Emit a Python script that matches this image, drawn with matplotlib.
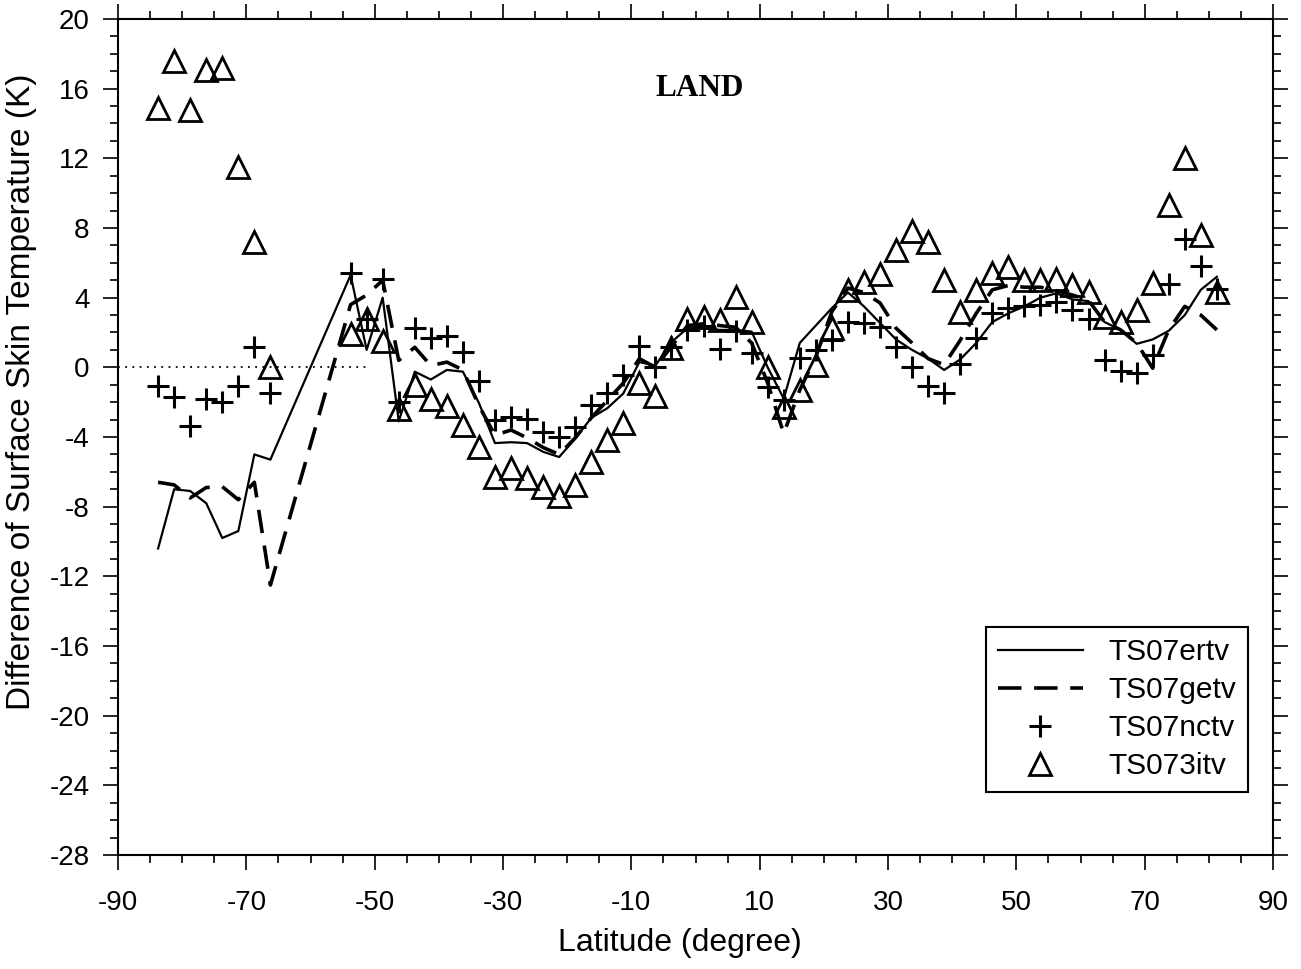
import matplotlib
matplotlib.use("Agg")
import matplotlib.pyplot as plt
from matplotlib.ticker import MultipleLocator

lat = [-83.75, -81.25, -78.75, -76.25, -73.75, -71.25, -68.75, -66.25,
       -53.75, -51.25, -48.75, -46.25, -43.75, -41.25, -38.75, -36.25, -33.75,
       -31.25, -28.75, -26.25, -23.75, -21.25, -18.75, -16.25, -13.75, -11.25,
       -8.75, -6.25, -3.75, -1.25, 1.25, 3.75, 6.25, 8.75, 11.25, 13.75,
       16.25, 18.75, 21.25, 23.75, 26.25, 28.75, 31.25, 33.75, 36.25, 38.75,
       41.25, 43.75, 46.25, 48.75, 51.25, 53.75, 56.25, 58.75, 61.25, 63.75,
       66.25, 68.75, 71.25, 73.75, 76.25, 78.75, 81.25]

ts07ertv = [-10.4, -7.0, -7.1, -7.8, -9.8, -9.4, -5.0, -5.3,
            5.3, 1.0, 4.0, -3.1, -0.25, -0.7, -0.15, -0.25, -2.05,
            -4.35, -4.3, -4.35, -4.85, -5.15, -4.1, -2.9, -2.35, -1.5,
            0.3, 0.1, 1.45, 2.25, 2.25, 2.15, 2.15, 2.05, 0.0, -1.8,
            1.4, 2.4, 3.4, 4.3, 3.5, 2.55, 1.6, 1.0, 0.5, -0.15,
            0.45, 1.4, 2.6, 3.1, 3.5, 4.0, 4.25, 3.9, 3.8, 2.6,
            2.15, 1.35, 1.6, 2.1, 3.0, 4.45, 5.2]

ts07getv = [-6.6, -6.75, -7.5, -6.9, -6.85, -7.6, -6.6, -12.5,
            3.6, 4.15, 5.0, 0.4, 1.15, 0.1, 0.3, -0.15, -2.2,
            -3.9, -3.6, -4.05, -4.6, -5.0, -4.05, -2.9, -1.9, -0.9,
            0.5, 0.0, 1.2, 2.4, 2.5, 2.4, 2.3, 1.4, -0.9, -3.8,
            -1.3, 0.6, 3.2, 4.55, 4.3, 3.7, 2.25, 1.4, 0.5, 0.15,
            1.55, 3.1, 4.45, 4.7, 4.6, 4.6, 4.4, 4.15, 3.85, 2.6,
            2.15, 1.4, -0.05, 2.15, 3.5, 3.0, 2.15]

ts07nctv = [-1.1, -1.7, -3.35, -1.8, -2.0, -1.1, 1.15, -1.5,
            5.4, 2.8, 5.1, -2.0, 2.25, 1.7, 1.8, 0.9, -0.8,
            -3.0, -2.85, -2.95, -3.7, -4.0, -3.4, -2.15, -1.5, -0.45,
            1.2, 0.0, 1.15, 2.15, 2.4, 1.05, 2.1, 0.8, -1.15, -1.9,
            0.55, 1.0, 1.55, 2.6, 2.55, 2.3, 1.15, 0.0, -1.1, -1.5,
            0.2, 1.7, 3.1, 3.4, 3.55, 3.6, 3.75, 3.3, 2.8, 0.4,
            -0.2, -0.35, 0.7, 4.8, 7.35, 5.8, 4.5]

ts073itv = [14.9, 17.6, 14.8, 17.1, 17.2, 11.5, 7.2, 0.0,
            1.9, 2.8, 1.5, -2.4, -1.0, -1.8, -2.2, -3.3, -4.6,
            -6.3, -5.8, -6.35, -6.85, -7.4, -6.75, -5.45, -4.2, -3.2,
            -0.9, -1.65, 1.1, 2.8, 2.9, 2.7, 4.05, 2.6, 0.0, -2.3,
            -1.3, 0.15, 2.25, 4.45, 4.9, 5.35, 6.75, 7.8, 7.2, 5.0,
            3.2, 4.45, 5.4, 5.75, 5.0, 5.0, 5.1, 4.7, 4.3, 2.9,
            2.6, 3.3, 4.85, 9.3, 12.0, 7.6, 4.3]

zero_x = [-90, -51]
zero_y = [0, 0]

xticks = [-90, -70, -50, -30, -10, 10, 30, 50, 70, 90]
yticks = [20, 16, 12, 8, 4, 0, -4, -8, -12, -16, -20, -24, -28]

plt.rcParams['font.family'] = ['Liberation Sans', 'DejaVu Sans']
plt.rcParams['axes.unicode_minus'] = False

fig = plt.figure(figsize=(13.01, 9.69), dpi=100)
ax = fig.add_axes([118/1301, 1-855/969, (1273-118)/1301, (855-19)/969])

ax.plot(zero_x, zero_y, color='black', linestyle=(0, (1, 3)), linewidth=1.3)
ax.plot(lat, ts07ertv, color='black', linewidth=1.6, label='TS07ertv')
ax.plot(lat, ts07getv, color='black', linewidth=2.6, dashes=(6.5, 3.5), label='TS07getv')
ax.plot(lat, ts07nctv, linestyle='none', marker='+', markersize=15.5, markeredgewidth=2.2,
        color='black', label='TS07nctv')
ax.plot(lat, ts073itv, linestyle='none', marker='^', markersize=16, markeredgewidth=2.0,
        markerfacecolor='none', markeredgecolor='black', label='TS073itv')

ax.set_xlim(-90, 90)
ax.set_ylim(-28, 20)
ax.set_xticks(xticks)
ax.set_yticks(yticks)
ax.xaxis.set_minor_locator(MultipleLocator(5))
ax.yaxis.set_minor_locator(MultipleLocator(1))
ax.tick_params(which='both', direction='out', top=True, right=True,
               labeltop=False, labelright=False, width=1.2, labelsize=20)
ax.tick_params(which='major', length=10.5)
ax.tick_params(which='minor', length=5.5)
ax.tick_params(axis='y', which='major', pad=10)
ax.tick_params(axis='x', which='major', pad=15)
for s in ax.spines.values():
    s.set_linewidth(1.5)

ax.set_xlabel('Latitude (degree)', fontsize=23)
ax.set_ylabel('Difference of Surface Skin Temperature (K)', fontsize=24)
ax.xaxis.set_label_coords((680-118)/1155, -(943-855)/836, transform=ax.transAxes)
ax.yaxis.set_label_coords(-(118-22)/1155, (855-392)/836, transform=ax.transAxes)
ax.xaxis.label.set_va('center')
ax.yaxis.label.set_va('center')

ax.text(0.504, 0.917, 'LAND', transform=ax.transAxes, ha='center', va='center',
        fontsize=22.5, fontweight='bold', family=['Liberation Serif', 'DejaVu Serif'])

leg = ax.legend(loc='lower right', bbox_to_anchor=(1248/1301, 1-792/969),
                bbox_transform=fig.transFigure, fontsize=21.5, frameon=True,
                fancybox=False, framealpha=1, edgecolor='black', handlelength=2.85,
                borderpad=0.4, labelspacing=0.33, handletextpad=0.85, borderaxespad=0)
leg.get_frame().set_linewidth(1.5)

fig.savefig('out.png', dpi=100)
